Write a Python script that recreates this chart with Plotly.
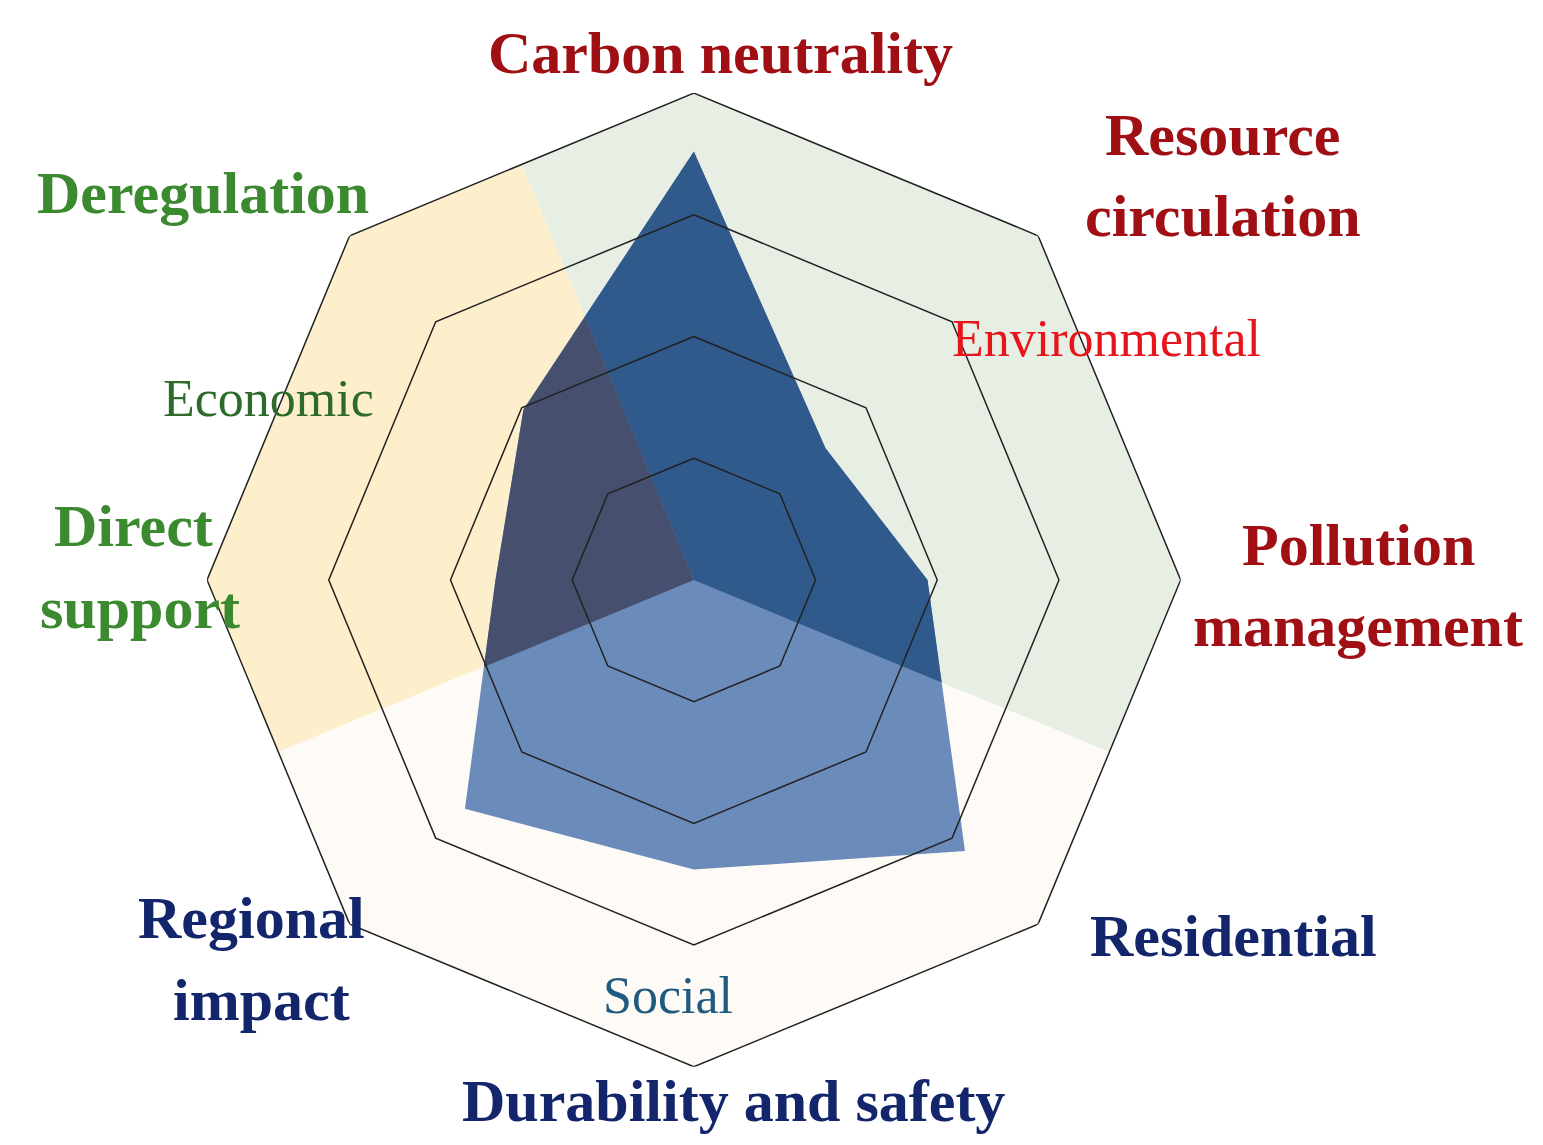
import numpy as np
import plotly.graph_objects as go

categories = ["Carbon neutrality", "Resource circulation", "Pollution management", "Residential",
              "Durability and safety", "Regional impact", "Direct support", "Deregulation"]
values = [3.52, 1.53, 1.92, 3.15, 2.38, 2.66, 1.63, 1.98]
rings = [1, 2, 3, 4]
rmax = 4
# sector boundaries in math angles (hi -> lo)
sectors = {"Environmental": (112.5, -22.5), "Economic": (202.5, 112.5), "Social": (337.5, 202.5)}
sector_colors = {"Environmental": "#e7efe5", "Economic": "#fdefcc", "Social": "#fefaf6"}
overlay_colors = {"Environmental": "#2f5a8b", "Economic": "#46506e"}

axis_ang = np.array([90 - 45 * i for i in range(8)], dtype=float)  # math degrees

def poly_xy(radii):
    a = np.radians(axis_ang)
    return np.array(radii) * np.cos(a), np.array(radii) * np.sin(a)

def ray_hit(px, py, ang):
    d = np.array([np.cos(np.radians(ang)), np.sin(np.radians(ang))])
    n = len(px)
    best = None
    for i in range(n):
        p = np.array([px[i], py[i]]); q = np.array([px[(i + 1) % n], py[(i + 1) % n]])
        e = q - p
        M = np.array([[d[0], -e[0]], [d[1], -e[1]]])
        if abs(np.linalg.det(M)) < 1e-12:
            continue
        t, s = np.linalg.solve(M, p)
        if t > 0 and -1e-9 <= s <= 1 + 1e-9:
            best = t if best is None else min(best, t)
    return best

def to_polar(x, y):
    r = np.hypot(x, y)
    ang = np.degrees(np.arctan2(y, x))
    return r, (90 - ang) % 360

def sector_shape(radii, a_hi, a_lo):
    px, py = poly_xy(radii)
    pts = [(0.0, 0.0)]
    r = ray_hit(px, py, a_hi)
    pts.append((r * np.cos(np.radians(a_hi)), r * np.sin(np.radians(a_hi))))
    mid = []
    for k in range(8):
        ang = axis_ang[k]
        for cand in (ang, ang + 360, ang - 360):
            if a_lo < cand < a_hi:
                mid.append((px[k], py[k]))
    mid.sort(key=lambda p: -((np.degrees(np.arctan2(p[1], p[0])) - a_lo) % 360))
    r = ray_hit(px, py, a_lo)
    end = (r * np.cos(np.radians(a_lo)), r * np.sin(np.radians(a_lo)))
    pts = pts + mid + [end, (0.0, 0.0)]
    x = np.array([p[0] for p in pts]); y = np.array([p[1] for p in pts])
    return to_polar(x, y)

fig = go.Figure()
for name, (hi, lo) in sectors.items():
    r, th = sector_shape([rmax] * 8, hi, lo)
    fig.add_trace(go.Scatterpolar(r=r, theta=th, mode="lines", fill="toself",
                                  fillcolor=sector_colors[name], line=dict(width=0), hoverinfo="skip"))

cr, cth = to_polar(*poly_xy(values))
fig.add_trace(go.Scatterpolar(r=list(cr) + [cr[0]], theta=list(cth) + [cth[0]], mode="lines", fill="toself",
                              fillcolor="#6b8cba", line=dict(width=0)))
for name in ("Environmental", "Economic"):
    hi, lo = sectors[name]
    r, th = sector_shape(values, hi, lo)
    fig.add_trace(go.Scatterpolar(r=r, theta=th, mode="lines", fill="toself",
                                  fillcolor=overlay_colors[name], line=dict(width=0)))

for rv in rings:
    rr, tt = to_polar(*poly_xy([rv] * 8))
    fig.add_trace(go.Scatterpolar(r=list(rr) + [rr[0]], theta=list(tt) + [tt[0]], mode="lines",
                                  line=dict(color="#222", width=1.5), hoverinfo="skip"))

fig.update_layout(
    width=1543, height=1145, margin=dict(l=0, r=0, t=0, b=0), showlegend=False,
    paper_bgcolor="white",
    polar=dict(
        domain=dict(x=[0.129, 0.760], y=[0.075, 0.926]),
        bgcolor="rgba(0,0,0,0)",
        radialaxis=dict(range=[0, rmax], showticklabels=False, ticks="", showgrid=False, showline=False),
        angularaxis=dict(rotation=90, direction="clockwise", showticklabels=False, ticks="",
                         showgrid=False, showline=False),
    ),
)

RED, NAVY, GREEN = "#a00f14", "#13266b", "#3b8a2f"
labels = [
    ("Carbon neutrality", 712, 45, RED), ("Resource", 1215, 127, RED), ("circulation", 1215, 208, RED),
    ("Pollution", 1350, 537, RED), ("management", 1350, 618, RED), ("Residential", 1225, 928, NAVY),
    ("Durability and safety", 725, 1093, NAVY), ("Regional", 243, 910, NAVY), ("impact", 253, 992, NAVY),
    ("Direct", 125, 518, GREEN), ("support", 132, 600, GREEN), ("Deregulation", 195, 185, GREEN),
]
for t, x, y, c in labels:
    fig.add_annotation(text=f"<b>{t}</b>", x=x / 1543, y=1 - y / 1145, xref="paper", yref="paper",
                       xanchor="center", yanchor="middle",
                       showarrow=False, font=dict(family="Liberation Serif", size=60, color=c))
small = [("Environmental", 1098, 330, "#e8141c"), ("Economic", 260, 390, "#2e6b2a"), ("Social", 660, 987, "#1f5a80")]
for t, x, y, c in small:
    fig.add_annotation(text=t, x=x / 1543, y=1 - y / 1145, xref="paper", yref="paper",
                       xanchor="center", yanchor="middle",
                       showarrow=False, font=dict(family="Liberation Serif", size=52, color=c))

fig.write_html("out.html")
